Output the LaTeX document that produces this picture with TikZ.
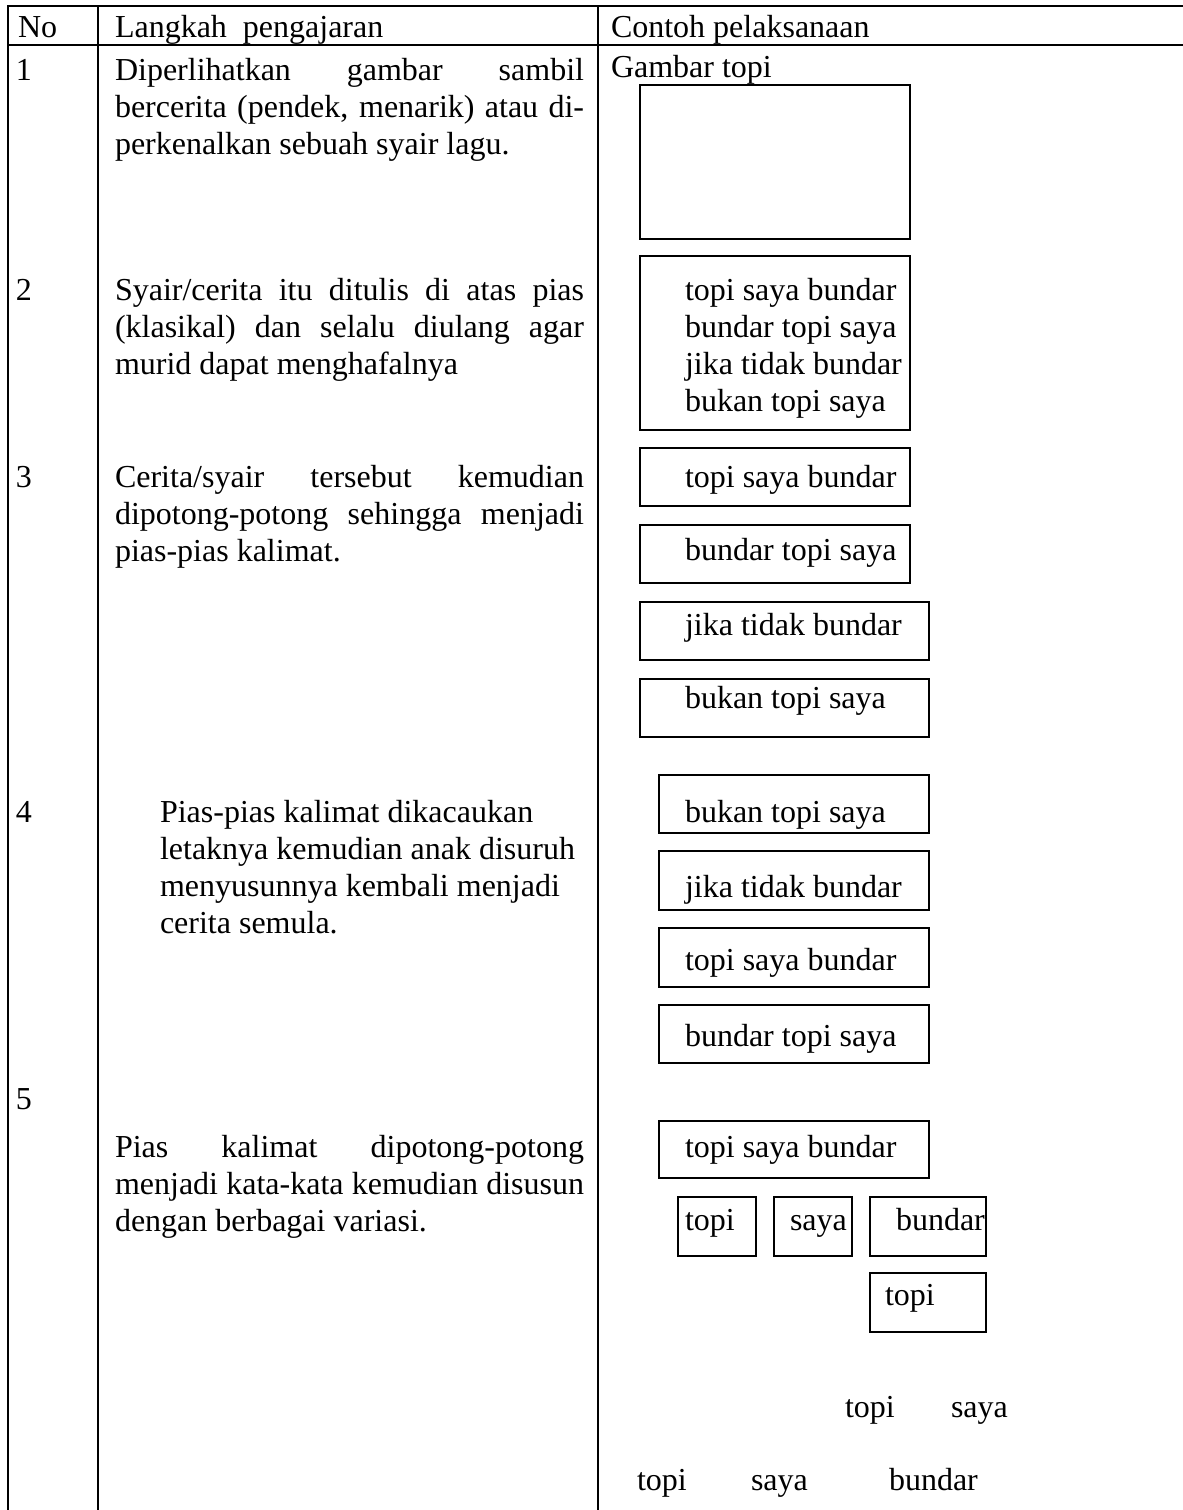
\documentclass[tikz,border=0pt]{standalone}
\usepackage{fontspec}
\setmainfont{Liberation Serif}
\begin{document}
\begin{tikzpicture}[x=1pt,y=-1pt,
  txt/.style={anchor=base west, inner sep=0pt, outer sep=0pt, font=\fontsize{32}{37}\selectfont},
  boxr/.style={draw, line width=2.2pt},
  rule/.style={line width=2pt}]
\useasboundingbox (0,0) rectangle (1183,1510);
% table rules
\draw[rule] (8,6) -- (1183,6);
\draw[rule] (8,45) -- (1183,45);
\draw[rule] (8,5) -- (8,1510);
\draw[rule] (98,5) -- (98,1510);
\draw[rule] (598,5) -- (598,1510);
% header
\node[txt] (hno) at (18,37) {No};
\node[txt] (hlang) at (115,37) {Langkah\ \ pengajaran};
\node[txt] (hcon) at (611,37) {Contoh pelaksanaan};
% row 1
\node[txt] (n1) at (16,80) {1};
\node[txt] (r1a) at (115,80) {\makebox[469pt][s]{Diperlihatkan gambar sambil}};
\node[txt] (r1b) at (115,117) {\makebox[469pt][s]{bercerita (pendek, menarik) atau di-}};
\node[txt] (r1c) at (115,154) {perkenalkan sebuah syair lagu.};
\node[txt] (gt) at (611,77) {Gambar topi};
\draw[boxr] (640,85) rectangle (910,239);
% row 2
\node[txt] (n2) at (16,300) {2};
\node[txt] (r2a) at (115,300) {\makebox[469pt][s]{Syair/cerita itu ditulis di atas pias}};
\node[txt] (r2b) at (115,337) {\makebox[469pt][s]{(klasikal) dan selalu diulang agar}};
\node[txt] (r2c) at (115,374) {murid dapat menghafalnya};
\draw[boxr] (640,256) rectangle (910,430);
\node[txt] (s1) at (685,300) {topi saya bundar};
\node[txt] (s2) at (685,337) {bundar topi saya};
\node[txt] (s3) at (685,374) {jika tidak bundar};
\node[txt] (s4) at (685,411) {bukan topi saya};
% row 3
\node[txt] (n3) at (16,487) {3};
\node[txt] (r3a) at (115,487) {\makebox[469pt][s]{Cerita/syair tersebut kemudian}};
\node[txt] (r3b) at (115,524) {\makebox[469pt][s]{dipotong-potong sehingga menjadi}};
\node[txt] (r3c) at (115,561) {pias-pias kalimat.};
\draw[boxr] (640,448) rectangle (910,506);
\node[txt] (p1) at (685,487) {topi saya bundar};
\draw[boxr] (640,525) rectangle (910,583);
\node[txt] (p2) at (685,560) {bundar topi saya};
\draw[boxr] (640,602) rectangle (929,660);
\node[txt] (p3) at (685,635) {jika tidak bundar};
\draw[boxr] (640,679) rectangle (929,737);
\node[txt] (p4) at (685,708) {bukan topi saya};
% row 4
\node[txt] (n4) at (16,822) {4};
\node[txt] (r4a) at (160,822) {Pias-pias kalimat dikacaukan};
\node[txt] (r4b) at (160,859) {letaknya kemudian anak disuruh};
\node[txt] (r4c) at (160,896) {menyusunnya kembali menjadi};
\node[txt] (r4d) at (160,933) {cerita semula.};
\draw[boxr] (659,775) rectangle (929,833);
\node[txt] (q1) at (685,822) {bukan topi saya};
\draw[boxr] (659,851) rectangle (929,910);
\node[txt] (q2) at (685,897) {jika tidak bundar};
\draw[boxr] (659,928) rectangle (929,987);
\node[txt] (q3) at (685,970) {topi saya bundar};
\draw[boxr] (659,1005) rectangle (929,1063);
\node[txt] (q4) at (685,1046) {bundar topi saya};
% row 5
\node[txt] (n5) at (16,1109) {5};
\node[txt] (r5a) at (115,1157) {\makebox[469pt][s]{Pias kalimat dipotong-potong}};
\node[txt] (r5b) at (115,1194) {\makebox[469pt][s]{menjadi kata-kata kemudian disusun}};
\node[txt] (r5c) at (115,1231) {dengan berbagai variasi.};
\draw[boxr] (659,1121) rectangle (929,1178);
\node[txt] (w0) at (685,1157) {topi saya bundar};
\draw[boxr] (678,1197) rectangle (756,1256);
\node[txt] (w1) at (685,1230) {topi};
\draw[boxr] (774,1197) rectangle (852,1256);
\node[txt] (w2) at (790,1230) {saya};
\draw[boxr] (870,1197) rectangle (986,1256);
\node[txt] (w3) at (896,1230) {bundar};
\draw[boxr] (870,1273) rectangle (986,1332);
\node[txt] (w4) at (885,1305) {topi};
\node[txt] (f1) at (845,1417) {topi};
\node[txt] (f2) at (951,1417) {saya};
\node[txt] (f3) at (637,1490) {topi};
\node[txt] (f4) at (751,1490) {saya};
\node[txt] (f5) at (889,1490) {bundar};
\end{tikzpicture}
\end{document}
